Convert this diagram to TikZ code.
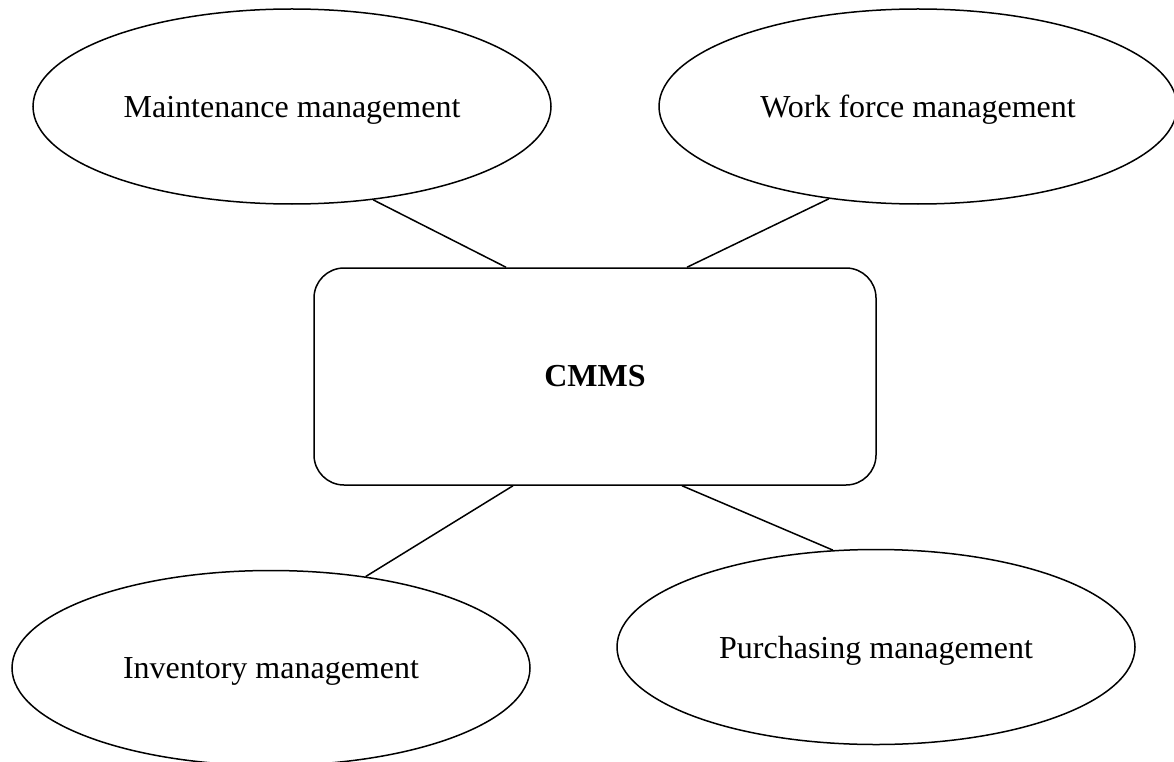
\documentclass[tikz,border=0pt]{standalone}
\usepackage{fontspec}
\setmainfont{Liberation Serif}
\usetikzlibrary{shapes.geometric}
\tikzstyle{module}=[ellipse,draw,line width=1.5pt,minimum width=518pt,minimum height=195pt,inner sep=0pt,text depth=0pt,font=\fontsize{32}{38}\selectfont]
\tikzstyle{core}=[rectangle,draw,line width=1.5pt,rounded corners=30pt,minimum width=562pt,minimum height=217pt,inner sep=0pt,font=\fontsize{32}{38}\selectfont\bfseries]
\tikzstyle{link}=[draw,line width=1.5pt,-]

\begin{document}
\begin{tikzpicture}[x=1pt,y=-1pt]
    \useasboundingbox (0,0) rectangle (1174,762);
    % First the centre box
    \node[core] (cmms) at (595,376.5) {CMMS};

    % Then the four modules round it
    \foreach \pos/\name/\txt in {{(292,106.5)/maint/Maintenance management}, {(918,106.5)/force/Work force management},
        {(271,668)/inv/Inventory management}, {(876,647)/purch/Purchasing management}}
        \node[module] (\name) at \pos {\txt};

    % Connect modules with the box
    \foreach \src/\dx/\side in {maint.-49/-89/north, force.-134/92/north, inv.44/-82/south, purch.114/87/south}
        \path[link] (\src) -- ([xshift=\dx pt]cmms.\side);
\end{tikzpicture}
\end{document}
